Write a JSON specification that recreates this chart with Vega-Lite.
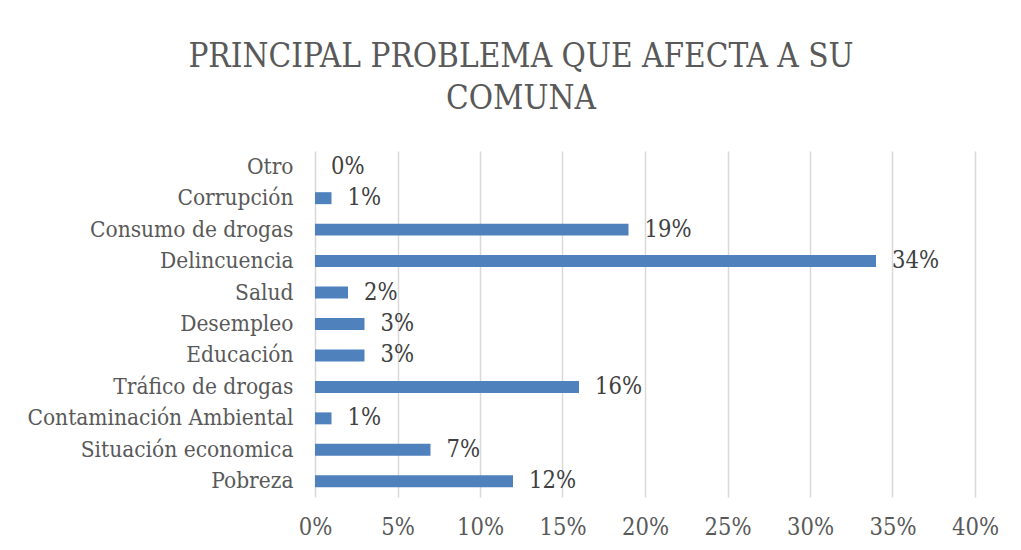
{
  "$schema": "https://vega.github.io/schema/vega-lite/v6.json",
  "width": 660,
  "height": 346,
  "autosize": {"type": "none"},
  "padding": {"left": 315, "top": 151, "right": 46, "bottom": 53},
  "background": "white",
  "title": {
    "text": ["PRINCIPAL PROBLEMA QUE AFECTA A SU", "COMUNA"],
    "font": "DejaVu Serif Condensed",
    "fontSize": 33,
    "fontWeight": "normal",
    "color": "#595959",
    "anchor": "middle",
    "dx": -124,
    "lineHeight": 42,
    "offset": 35
  },
  "data": {
    "values": [
      {"categoria": "Otro", "valor": 0.0},
      {"categoria": "Corrupción", "valor": 0.01},
      {"categoria": "Consumo de drogas", "valor": 0.19},
      {"categoria": "Delincuencia", "valor": 0.34},
      {"categoria": "Salud", "valor": 0.02},
      {"categoria": "Desempleo", "valor": 0.03},
      {"categoria": "Educación", "valor": 0.03},
      {"categoria": "Tráfico de drogas", "valor": 0.16},
      {"categoria": "Contaminación Ambiental", "valor": 0.01},
      {"categoria": "Situación economica", "valor": 0.07},
      {"categoria": "Pobreza", "valor": 0.12}
    ]
  },
  "encoding": {
    "y": {
      "field": "categoria",
      "type": "nominal",
      "sort": null,
      "scale": {"paddingInner": 0.62, "paddingOuter": 0.31},
      "axis": {
        "title": null,
        "domain": false,
        "ticks": false,
        "labelPadding": 22,
        "labelFont": "DejaVu Serif Condensed",
        "labelFontSize": 22.5,
        "labelColor": "#595959",
        "labelLimit": 400
      }
    },
    "x": {
      "field": "valor",
      "type": "quantitative",
      "scale": {"domain": [0, 0.4]},
      "axis": {
        "title": null,
        "format": ".0%",
        "values": [0, 0.05, 0.1, 0.15, 0.2, 0.25, 0.3, 0.35, 0.4],
        "domain": false,
        "ticks": false,
        "grid": true,
        "gridColor": "#d9d9d9",
        "gridWidth": 1.5,
        "labelFlush": false,
        "labelPadding": 18,
        "labelFont": "DejaVu Serif Condensed",
        "labelFontSize": 23.5,
        "labelColor": "#595959"
      }
    }
  },
  "layer": [
    {"mark": {"type": "bar", "color": "#4f81bd"}},
    {
      "mark": {
        "type": "text",
        "align": "left",
        "baseline": "middle",
        "dx": 16,
        "font": "DejaVu Serif Condensed",
        "fontSize": 23.5,
        "color": "#404040"
      },
      "encoding": {"text": {"field": "valor", "type": "quantitative", "format": ".0%"}}
    }
  ],
  "config": {"view": {"stroke": null}}
}
